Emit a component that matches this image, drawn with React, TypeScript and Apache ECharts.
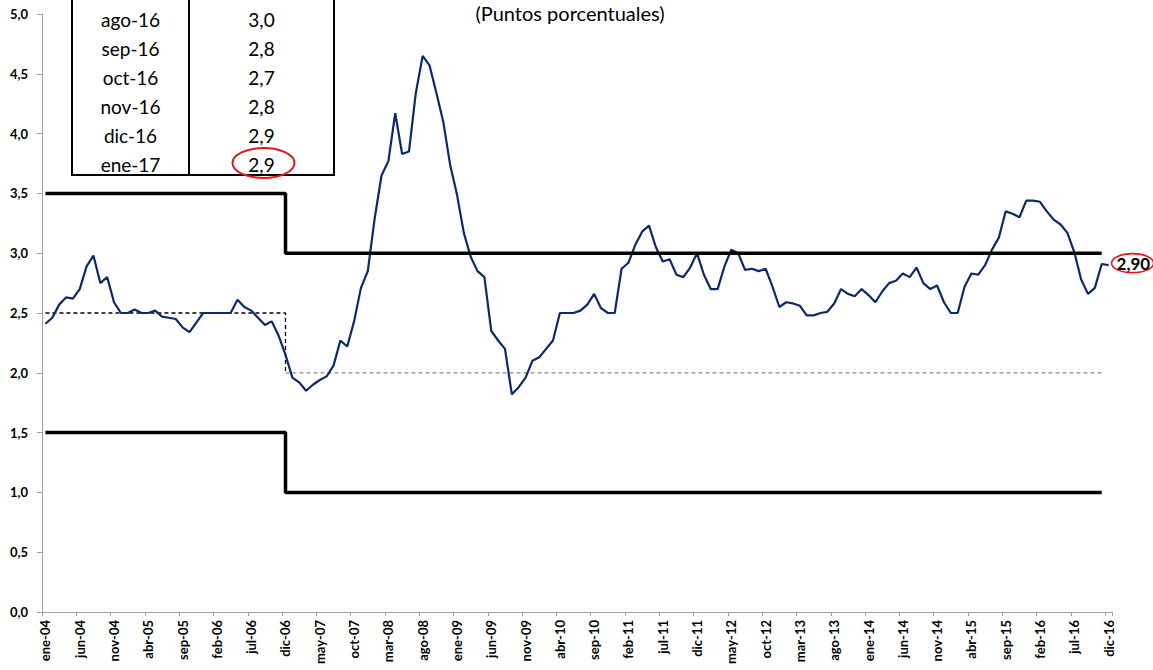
import React, { useEffect, useRef } from 'react';
import * as echarts from 'echarts';

const monthNames = ['ene', 'feb', 'mar', 'abr', 'may', 'jun', 'jul', 'ago', 'sep', 'oct', 'nov', 'dic'];
const years = ['04', '05', '06', '07', '08', '09', '10', '11', '12', '13', '14', '15', '16'];
const categories: string[] = years.flatMap((y) => monthNames.map((m) => `${m}-${y}`));

// Monthly values, ene-04 .. dic-16
const values2004 = [2.41, 2.46, 2.57, 2.63, 2.62, 2.70, 2.89, 2.98, 2.75, 2.80, 2.59, 2.50];
const values2005 = [2.50, 2.53, 2.50, 2.50, 2.52, 2.47, 2.46, 2.45, 2.38, 2.34, 2.42, 2.50];
const values2006 = [2.50, 2.50, 2.50, 2.50, 2.61, 2.55, 2.52, 2.46, 2.40, 2.43, 2.31, 2.15];
const values2007 = [1.96, 1.92, 1.85, 1.90, 1.94, 1.97, 2.06, 2.27, 2.22, 2.43, 2.71, 2.85];
const values2008 = [3.29, 3.65, 3.77, 4.17, 3.83, 3.85, 4.34, 4.65, 4.57, 4.34, 4.10, 3.74];
const values2009 = [3.49, 3.17, 2.97, 2.85, 2.80, 2.35, 2.27, 2.20, 1.82, 1.88, 1.96, 2.10];
const values2010 = [2.13, 2.20, 2.27, 2.50, 2.50, 2.50, 2.52, 2.57, 2.66, 2.54, 2.50, 2.50];
const values2011 = [2.87, 2.92, 3.07, 3.18, 3.23, 3.05, 2.93, 2.95, 2.82, 2.80, 2.88, 3.00];
const values2012 = [2.82, 2.70, 2.70, 2.89, 3.03, 3.00, 2.86, 2.87, 2.85, 2.87, 2.72, 2.55];
const values2013 = [2.59, 2.58, 2.56, 2.48, 2.48, 2.50, 2.51, 2.58, 2.70, 2.66, 2.64, 2.70];
const values2014 = [2.65, 2.59, 2.68, 2.75, 2.77, 2.83, 2.80, 2.88, 2.75, 2.70, 2.73, 2.59];
const values2015 = [2.50, 2.50, 2.72, 2.83, 2.82, 2.90, 3.03, 3.13, 3.35, 3.33, 3.30, 3.44];
const values2016 = [3.44, 3.43, 3.35, 3.28, 3.24, 3.17, 3.01, 2.78, 2.66, 2.71, 2.91, 2.90];

const seriesValues = [
  ...values2004, ...values2005, ...values2006, ...values2007, ...values2008,
  ...values2009, ...values2010, ...values2011, ...values2012, ...values2013,
  ...values2014, ...values2015, ...values2016,
];

// Reference bands (category, value) breakpoints
const upperBand: [string, number][] = [['ene-04', 3.5], ['dic-06', 3.5], ['dic-06', 3.0], ['nov-16', 3.0]];
const lowerBand: [string, number][] = [['ene-04', 1.5], ['dic-06', 1.5], ['dic-06', 1.0], ['nov-16', 1.0]];
const oldTarget: [string, number][] = [['ene-04', 2.5], ['dic-06', 2.5], ['dic-06', 2.0]];
const newTarget: [string, number][] = [['dic-06', 2.0], ['nov-16', 2.0]];

const tableMonths = ['ago-16', 'sep-16', 'oct-16', 'nov-16', 'dic-16', 'ene-17'];
const tableValues = ['3,0', '2,8', '2,7', '2,8', '2,9', '2,9'];

const lastLabel = '2,90';
const subtitle = '(Puntos porcentuales)';

const FONT = 'Lato, "Noto Sans", "DejaVu Sans", sans-serif';

const toIdx = (pts: [string, number][]) => pts.map(([c, v]) => [categories.indexOf(c), v]);

export default function App() {
  const ref = useRef<HTMLDivElement>(null);

  useEffect(() => {
    if (!ref.current) return;
    const chart = echarts.init(ref.current, undefined, { renderer: 'svg' });
    const lastIdx = seriesValues.length - 1;

    const option: any = {
      animation: false,
      textStyle: { fontFamily: FONT },
      grid: { left: 42, right: 41, top: 14, bottom: 58, containLabel: false },
      xAxis: {
        type: 'category',
        data: categories,
        boundaryGap: true,
        axisLine: { lineStyle: { color: '#a0a0a0', width: 1 } },
        axisTick: { show: true, interval: 4, length: 4, lineStyle: { color: '#a0a0a0' } },
        axisLabel: {
          interval: 4,
          rotate: 90,
          margin: 8,
          fontSize: 13,
          fontWeight: 'bold',
          color: '#000',
          fontFamily: FONT,
        },
        splitLine: { show: false },
      },
      yAxis: {
        type: 'value',
        min: 0,
        max: 5,
        interval: 0.5,
        axisLine: { show: true, lineStyle: { color: '#a0a0a0', width: 1 } },
        axisTick: { show: true, length: 5, lineStyle: { color: '#a0a0a0' } },
        axisLabel: {
          margin: 14,
          fontSize: 13,
          fontWeight: 'bold',
          color: '#000',
          fontFamily: FONT,
          formatter: (v: number) => v.toFixed(1).replace('.', ','),
        },
        splitLine: { show: false },
      },
      series: [
        {
          name: 'spread',
          type: 'line',
          data: seriesValues,
          showSymbol: false,
          symbol: 'none',
          lineStyle: { color: '#0c2a68', width: 2.2 },
          z: 3,
        },
        {
          type: 'line',
          data: toIdx(newTarget),
          showSymbol: false,
          symbol: 'none',
          lineStyle: { color: '#8c8c8c', width: 1.3, type: [4, 3] },
          z: 2,
        },
        {
          type: 'line',
          data: toIdx(oldTarget),
          showSymbol: false,
          symbol: 'none',
          lineStyle: { color: '#000', width: 1.3, type: [4, 3] },
          z: 2,
        },
        {
          type: 'line',
          data: toIdx(upperBand),
          showSymbol: false,
          symbol: 'none',
          lineStyle: { color: '#000', width: 3.5 },
          z: 4,
        },
        {
          type: 'line',
          data: toIdx(lowerBand),
          showSymbol: false,
          symbol: 'none',
          lineStyle: { color: '#000', width: 3.5 },
          z: 4,
        },
      ],
    };
    chart.setOption(option);

    const [px, py] = chart.convertToPixel({ seriesIndex: 0 }, [lastIdx, seriesValues[lastIdx]]) as number[];

    const tableLeft = 72;
    const tableDiv = 189;
    const tableRight = 334;
    const tableBottom = 175;
    const rowH = 29;
    const firstRowY = 19;
    const graphics: any[] = [
      {
        type: 'text',
        x: 570,
        y: 13,
        style: {
          text: subtitle,
          fontSize: 20,
          fontFamily: FONT,
          fill: '#000',
          align: 'center',
          verticalAlign: 'middle',
        },
        z: 10,
      },
      {
        type: 'rect',
        shape: { x: tableLeft, y: -20, width: tableRight - tableLeft, height: tableBottom + 20 },
        style: { fill: 'none', stroke: '#000', lineWidth: 2 },
        z: 10,
      },
      {
        type: 'line',
        shape: { x1: tableDiv, y1: -20, x2: tableDiv, y2: tableBottom },
        style: { stroke: '#000', lineWidth: 2 },
        z: 10,
      },
      ...tableMonths.map((m, i) => ({
        type: 'text',
        x: (tableLeft + tableDiv) / 2,
        y: firstRowY + i * rowH,
        style: {
          text: m,
          fontSize: 19,
          fontFamily: FONT,
          fill: '#000',
          align: 'center',
          verticalAlign: 'middle',
        },
        z: 10,
      })),
      ...tableValues.map((v, i) => ({
        type: 'text',
        x: (tableDiv + tableRight) / 2,
        y: firstRowY + i * rowH,
        style: {
          text: v,
          fontSize: 19,
          fontFamily: FONT,
          fill: '#000',
          align: 'center',
          verticalAlign: 'middle',
        },
        z: 10,
      })),
      {
        type: 'ellipse',
        shape: { cx: (tableDiv + tableRight) / 2 + 2, cy: firstRowY + 5 * rowH - 1, rx: 31, ry: 15 },
        style: { fill: 'none', stroke: '#e8141b', lineWidth: 2 },
        z: 11,
      },
      {
        type: 'text',
        x: px + 8,
        y: py - 2,
        style: {
          text: lastLabel,
          fontSize: 17,
          fontWeight: 'bold',
          fontFamily: FONT,
          fill: '#000',
          align: 'left',
          verticalAlign: 'middle',
        },
        z: 12,
      },
      {
        type: 'ellipse',
        shape: { cx: px + 24, cy: py - 2, rx: 21, ry: 9.5 },
        style: { fill: 'none', stroke: '#e8141b', lineWidth: 1.6 },
        z: 11,
      },
    ];
    chart.setOption({ graphic: graphics });

    return () => chart.dispose();
  }, []);

  return (
    <div
      ref={ref}
      style={{ position: 'fixed', left: 0, top: 0, width: 1153, height: 670, background: '#fff' }}
    />
  );
}
